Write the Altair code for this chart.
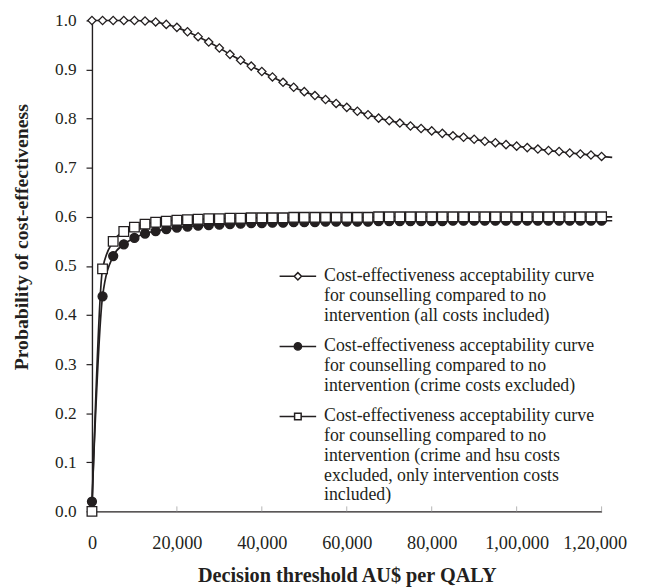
import altair as alt
import pandas as pd

INK = "#231f20"
FONT = "Liberation Serif"

thresholds = [0, 2500, 5000, 7500, 10000, 12500, 15000, 17500, 20000, 22500,
              25000, 27500, 30000, 32500, 35000, 37500, 40000, 42500, 45000, 47500,
              50000, 52500, 55000, 57500, 60000, 62500, 65000, 67500, 70000, 72500,
              75000, 77500, 80000, 82500, 85000, 87500, 90000, 92500, 95000, 97500,
              100000, 102500, 105000, 107500, 110000, 112500, 115000, 117500, 120000, 122500]

all_costs = [1.000, 1.000, 1.000, 1.000, 1.000, 0.999, 0.997, 0.992, 0.986, 0.977,
             0.967, 0.956, 0.944, 0.931, 0.919, 0.907, 0.896, 0.885, 0.874, 0.864,
             0.855, 0.847, 0.839, 0.831, 0.823, 0.815, 0.808, 0.801, 0.796, 0.791,
             0.785, 0.780, 0.775, 0.770, 0.765, 0.762, 0.758, 0.754, 0.751, 0.747,
             0.744, 0.741, 0.738, 0.735, 0.733, 0.730, 0.728, 0.726, 0.723, 0.721]

crime_excluded = [0.020, 0.438, 0.520, 0.544, 0.557, 0.566, 0.571, 0.575, 0.578, 0.580,
                  0.582, 0.583, 0.584, 0.585, 0.586, 0.587, 0.587, 0.588, 0.588, 0.589,
                  0.589, 0.589, 0.590, 0.590, 0.590, 0.590, 0.590, 0.591, 0.591, 0.591,
                  0.591, 0.591, 0.591, 0.591, 0.592, 0.592, 0.592, 0.592, 0.592, 0.592,
                  0.592, 0.592, 0.592, 0.592, 0.592, 0.592, 0.592, 0.592, 0.592, 0.592]

intervention_only = [0.000, 0.494, 0.550, 0.570, 0.579, 0.585, 0.589, 0.591, 0.593, 0.594,
                     0.595, 0.596, 0.596, 0.597, 0.597, 0.598, 0.598, 0.598, 0.598, 0.599,
                     0.599, 0.599, 0.599, 0.599, 0.599, 0.599, 0.599, 0.600, 0.600, 0.600,
                     0.600, 0.600, 0.600, 0.600, 0.600, 0.600, 0.600, 0.600, 0.600, 0.600,
                     0.600, 0.600, 0.600, 0.600, 0.600, 0.600, 0.600, 0.600, 0.600, 0.600]

series_labels = [
    "Cost-effectiveness acceptability curve|for counselling compared to no|intervention (all costs included)",
    "Cost-effectiveness acceptability curve|for counselling compared to no|intervention (crime costs excluded)",
    "Cost-effectiveness acceptability curve|for counselling compared to no|intervention (crime and hsu costs|excluded, only intervention costs|included)",
]
marker_shapes = ["diamond", "circle", "square"]
marker_fills = ["white", INK, "white"]
marker_strokes = [INK, INK, INK]
marker_sizes = [70, 95, 64]
legend_symbols = [
    "M-1,0H-0.2M0.2,0H1M-0.2,0L0,-0.2L0.2,0L0,0.2Z",
    "M-1,0H-0.2M0.2,0H1M-0.2,0A0.2,0.2,0,1,1,0.2,0A0.2,0.2,0,1,1,-0.2,0Z",
    "M-1,0H-0.18M0.18,0H1M-0.18,-0.18H0.18V0.18H-0.18Z",
]
x_ticks = [0, 20000, 40000, 60000, 80000, 100000, 120000]
y_ticks = [0.0, 0.1, 0.2, 0.3, 0.4, 0.5, 0.6, 0.7, 0.8, 0.9, 1.0]
last_marker = 120000

rows = []
for label, vals in zip(series_labels, [all_costs, crime_excluded, intervention_only]):
    for t, v in zip(thresholds, vals):
        rows.append({"threshold": t, "prob": v, "series": label})
df = pd.DataFrame(rows)

X_TITLE = "Decision threshold AU$ per QALY"
Y_TITLE = "Probability of cost-effectiveness"
H = 497

x_enc = alt.X(
    "threshold:Q",
    scale=alt.Scale(domain=[0, 120000], nice=False, zero=True),
    axis=alt.Axis(
        values=x_ticks,
        labelExpr="datum.value == 100000 ? '1,00,000' : datum.value == 120000 ? '1,20,000' : format(datum.value, ',')",
        tickSize=0, labelPadding=23, titlePadding=14, labelOverlap=False, labelFlush=False,
        labelOffset={"condition": {"test": "datum.value == 120000", "value": -7}, "value": 0},
        labelFontSize=18.5, titleFontSize=20.5,
    ),
    title=X_TITLE,
)
y_enc = alt.Y(
    "prob:Q",
    scale=alt.Scale(domain=[0, 1], nice=False),
    axis=alt.Axis(values=y_ticks, format=".1f", tickSize=6, labelPadding=10,
                  labelFontSize=17.5, titleFontSize=20, titleX=-61, titleY=219),
    title=Y_TITLE,
)

base = alt.Chart(df)

lines = base.mark_line(interpolate="monotone", stroke=INK, strokeWidth=1.7).encode(
    x=x_enc, y=y_enc, detail="series:N"
)

points = base.transform_filter(alt.datum.threshold <= last_marker).mark_point(
    filled=True, stroke=INK, strokeWidth=1.3, opacity=1
).encode(
    x=alt.X("threshold:Q", title=X_TITLE),
    y=alt.Y("prob:Q", title=Y_TITLE),
    shape=alt.Shape("series:N", scale=alt.Scale(domain=series_labels, range=marker_shapes), legend=None),
    fill=alt.Fill("series:N", scale=alt.Scale(domain=series_labels, range=marker_fills), legend=None),
    size=alt.Size("series:O", scale=alt.Scale(domain=series_labels, range=marker_sizes), legend=None),
)

legend_props = dict(
    orient="none", legendX=189, legendY=249, title=None, padding=0,
    labelExpr="split(datum.label, '|')", labelFont=FONT, labelFontSize=18, labelColor=INK,
    labelLimit=0, labelOffset=7, rowPadding=12, clipHeight=20,
    symbolSize=1369, symbolStrokeWidth=1.5, symbolStrokeColor=INK, labelBaseline="middle",
)

legend_layer = base.transform_filter("false").mark_point(
    filled=True, stroke=INK, strokeWidth=1.5, opacity=1, size=1369
).encode(
    shape=alt.Shape("series:N", scale=alt.Scale(domain=series_labels, range=legend_symbols),
                    legend=alt.Legend(**legend_props)),
    fill=alt.Fill("series:N", scale=alt.Scale(domain=series_labels, range=marker_fills),
                  legend=alt.Legend(**legend_props)),
    stroke=alt.Stroke("series:N", scale=alt.Scale(domain=series_labels, range=marker_strokes),
                      legend=alt.Legend(**legend_props)),
)

tick_marks = alt.Chart(pd.DataFrame({"t": x_ticks[1:]})).mark_rule(color="#b5b5b5", strokeWidth=1).encode(
    x=alt.X("t:Q", title=X_TITLE), y=alt.value(H - 5), y2=alt.value(H)
)

chart = alt.layer(tick_marks, lines, points, legend_layer).resolve_scale(
    shape="independent", fill="independent", size="independent", stroke="independent"
).properties(
    width=516, height=H,
    autosize=alt.AutoSizeParams(type="none"),
    padding={"left": 85, "top": 9, "right": 47, "bottom": 74},
).configure_view(stroke=None).configure_axis(
    domainColor=INK, domainWidth=1.4, tickColor=INK, tickWidth=1.2, grid=False,
    labelFont=FONT, labelColor=INK,
    titleFont=FONT, titleFontWeight="bold", titleColor=INK,
)

chart.save("out.html", embed_options={"renderer": "svg", "actions": False})
